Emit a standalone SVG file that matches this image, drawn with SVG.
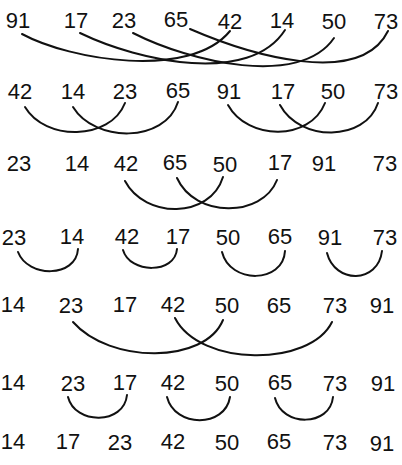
<svg xmlns="http://www.w3.org/2000/svg" width="402" height="465" viewBox="0 0 402 465">
<style>
text{font-family:"Liberation Sans",Arial,sans-serif;font-size:22px;fill:#111;text-anchor:middle}
.c{fill:none;stroke:#111;stroke-width:2;stroke-linecap:round}
</style>
<rect width="402" height="465" fill="#fff"/>
<g id="row1">
<g id="r1-91"><text x="18" y="28">91</text></g>
<g id="r1-17"><text x="76" y="28">17</text></g>
<g id="r1-23"><text x="124" y="28">23</text></g>
<g id="r1-65"><text x="176" y="27">65</text></g>
<g id="r1-42"><text x="230" y="29">42</text></g>
<g id="r1-14"><text x="282" y="28">14</text></g>
<g id="r1-50"><text x="334" y="29">50</text></g>
<g id="r1-73"><text x="386" y="29">73</text></g>
</g>
<g id="row2">
<g id="r2-42"><text x="20" y="99">42</text></g>
<g id="r2-14"><text x="73" y="99">14</text></g>
<g id="r2-23"><text x="125" y="99">23</text></g>
<g id="r2-65"><text x="178" y="98">65</text></g>
<g id="r2-91"><text x="229" y="99">91</text></g>
<g id="r2-17"><text x="283" y="99">17</text></g>
<g id="r2-50"><text x="333" y="99">50</text></g>
<g id="r2-73"><text x="386" y="99">73</text></g>
</g>
<g id="row3">
<g id="r3-23"><text x="19" y="171">23</text></g>
<g id="r3-14"><text x="77" y="171">14</text></g>
<g id="r3-42"><text x="126" y="171">42</text></g>
<g id="r3-65"><text x="175" y="170">65</text></g>
<g id="r3-50"><text x="225" y="172">50</text></g>
<g id="r3-17"><text x="280" y="170">17</text></g>
<g id="r3-91"><text x="324" y="171">91</text></g>
<g id="r3-73"><text x="385" y="171">73</text></g>
</g>
<g id="row4">
<g id="r4-23"><text x="14" y="245">23</text></g>
<g id="r4-14"><text x="72" y="244">14</text></g>
<g id="r4-42"><text x="127" y="244">42</text></g>
<g id="r4-17"><text x="178" y="244">17</text></g>
<g id="r4-50"><text x="228" y="245">50</text></g>
<g id="r4-65"><text x="280" y="244">65</text></g>
<g id="r4-91"><text x="330" y="245">91</text></g>
<g id="r4-73"><text x="385" y="245">73</text></g>
</g>
<g id="row5">
<g id="r5-14"><text x="13" y="312">14</text></g>
<g id="r5-23"><text x="71" y="313">23</text></g>
<g id="r5-17"><text x="125" y="312">17</text></g>
<g id="r5-42"><text x="173" y="312">42</text></g>
<g id="r5-50"><text x="227" y="313">50</text></g>
<g id="r5-65"><text x="279" y="313">65</text></g>
<g id="r5-73"><text x="335" y="313">73</text></g>
<g id="r5-91"><text x="382" y="313">91</text></g>
</g>
<g id="row6">
<g id="r6-14"><text x="13" y="390">14</text></g>
<g id="r6-23"><text x="73" y="391">23</text></g>
<g id="r6-17"><text x="125" y="390">17</text></g>
<g id="r6-42"><text x="173" y="390">42</text></g>
<g id="r6-50"><text x="227" y="391">50</text></g>
<g id="r6-65"><text x="280" y="390">65</text></g>
<g id="r6-73"><text x="335" y="391">73</text></g>
<g id="r6-91"><text x="383" y="391">91</text></g>
</g>
<g id="row7">
<g id="r7-14"><text x="13" y="449">14</text></g>
<g id="r7-17"><text x="68" y="449">17</text></g>
<g id="r7-23"><text x="120" y="450">23</text></g>
<g id="r7-42"><text x="173" y="449">42</text></g>
<g id="r7-50"><text x="227" y="450">50</text></g>
<g id="r7-65"><text x="279" y="449">65</text></g>
<g id="r7-73"><text x="335" y="450">73</text></g>
<g id="r7-91"><text x="382" y="451">91</text></g>
</g>
<g id="connectors">
<path class="c" d="M22,34 C70,60 190,80 230,31"/>
<path class="c" d="M80,33 C140,62 250,85 285,30"/>
<path class="c" d="M133,33 C190,62 300,88 334,38"/>
<path class="c" d="M190,29 C250,55 360,88 388,31"/>
<path class="c" d="M25,107 C45,141 110,141 125,103"/>
<path class="c" d="M73,107 C95,143 165,143 178,102"/>
<path class="c" d="M228,105 C248,141 310,141 325,103"/>
<path class="c" d="M280,105 C300,142 365,142 378,103"/>
<path class="c" d="M125,181 C145,219 210,219 223,177"/>
<path class="c" d="M177,178 C195,218 262,218 277,180"/>
<path class="c" d="M18,252 C28,278 76,278 78,249"/>
<path class="c" d="M123,250 C130,274 175,274 177,249"/>
<path class="c" d="M222,252 C230,284 283,284 285,251"/>
<path class="c" d="M327,253 C335,284 378,284 382,251"/>
<path class="c" d="M73,322 C110,364 205,364 223,320"/>
<path class="c" d="M175,318 C200,367 310,367 332,322"/>
<path class="c" d="M68,397 C75,425 124,425 127,395"/>
<path class="c" d="M167,397 C175,428 225,428 230,397"/>
<path class="c" d="M275,398 C282,427 330,427 333,397"/>
</g>
</svg>
